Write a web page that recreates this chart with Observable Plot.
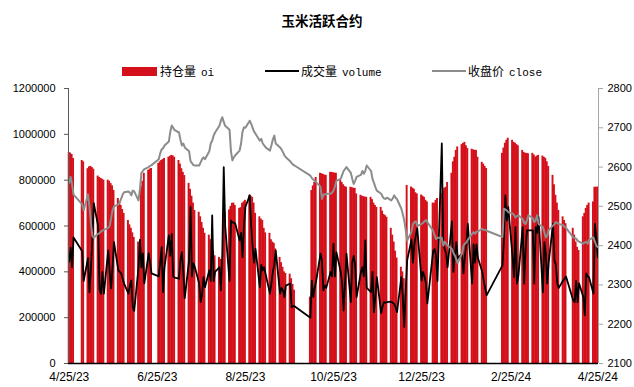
<!DOCTYPE html>
<html><head><meta charset="utf-8">
<script src="https://cdn.jsdelivr.net/npm/d3@7"></script>
<script src="https://cdn.jsdelivr.net/npm/@observablehq/plot@0.6"></script>
<style>
body{margin:0;background:#fff;}
#wrap{position:relative;width:634px;height:387px;overflow:hidden;}
#chart{position:absolute;left:0;top:0;}
.title{position:absolute;left:0;top:11px;width:644px;text-align:center;font-weight:bold;font-size:13.5px;line-height:18px;font-family:"Noto Sans CJK SC",sans-serif;color:#000;}
.lg{position:absolute;top:63px;font-size:12px;line-height:16px;font-family:"Noto Sans CJK SC",sans-serif;color:#000;white-space:nowrap;}
.lg span{font-family:"Liberation Mono",monospace;font-size:11px;margin-left:5px;}
.sw{position:absolute;}
</style></head>
<body>
<div id="wrap">
  <div id="chart"></div>
  <div class="title">玉米活跃合约</div>
  <div class="sw" style="left:122px;top:67px;width:35px;height:9px;background:#d4101a;"></div>
  <div class="lg" style="left:160px;">持仓量<span>oi</span></div>
  <div class="sw" style="left:265px;top:70px;width:34px;height:2px;background:#000;"></div>
  <div class="lg" style="left:301px;">成交量<span>volume</span></div>
  <div class="sw" style="left:432px;top:70px;width:34px;height:2px;background:#8c8c8c;"></div>
  <div class="lg" style="left:468px;">收盘价<span>close</span></div>
</div>
<script>
const dates = [
"2023-04-25","2023-04-26","2023-04-27","2023-04-28",
"2023-05-04","2023-05-05",
"2023-05-08","2023-05-09","2023-05-10","2023-05-11","2023-05-12",
"2023-05-15","2023-05-16","2023-05-17","2023-05-18","2023-05-19",
"2023-05-22","2023-05-23","2023-05-24","2023-05-25","2023-05-26",
"2023-05-29","2023-05-30","2023-05-31","2023-06-01","2023-06-02",
"2023-06-05","2023-06-06","2023-06-07","2023-06-08","2023-06-09",
"2023-06-12","2023-06-13","2023-06-14","2023-06-15","2023-06-16",
"2023-06-19","2023-06-20","2023-06-21",
"2023-06-26","2023-06-27","2023-06-28","2023-06-29","2023-06-30",
"2023-07-03","2023-07-04","2023-07-05","2023-07-06","2023-07-07",
"2023-07-10","2023-07-11","2023-07-12","2023-07-13","2023-07-14",
"2023-07-17","2023-07-18","2023-07-19","2023-07-20","2023-07-21",
"2023-07-24","2023-07-25","2023-07-26","2023-07-27","2023-07-28",
"2023-07-31","2023-08-01","2023-08-02","2023-08-03","2023-08-04",
"2023-08-07","2023-08-08","2023-08-09","2023-08-10","2023-08-11",
"2023-08-14","2023-08-15","2023-08-16","2023-08-17","2023-08-18",
"2023-08-21","2023-08-22","2023-08-23","2023-08-24","2023-08-25",
"2023-08-28","2023-08-29","2023-08-30","2023-08-31","2023-09-01",
"2023-09-04","2023-09-05","2023-09-06","2023-09-07","2023-09-08",
"2023-09-11","2023-09-12","2023-09-13","2023-09-14","2023-09-15",
"2023-09-18","2023-09-19","2023-09-20","2023-09-21","2023-09-22",
"2023-09-25","2023-09-26","2023-09-27","2023-09-28",
"2023-10-09","2023-10-10","2023-10-11","2023-10-12","2023-10-13",
"2023-10-16","2023-10-17","2023-10-18","2023-10-19","2023-10-20",
"2023-10-23","2023-10-24","2023-10-25","2023-10-26","2023-10-27",
"2023-10-30","2023-10-31","2023-11-01","2023-11-02","2023-11-03",
"2023-11-06","2023-11-07","2023-11-08","2023-11-09","2023-11-10",
"2023-11-13","2023-11-14","2023-11-15","2023-11-16","2023-11-17",
"2023-11-20","2023-11-21","2023-11-22","2023-11-23","2023-11-24",
"2023-11-27","2023-11-28","2023-11-29","2023-11-30","2023-12-01",
"2023-12-04","2023-12-05","2023-12-06","2023-12-07","2023-12-08",
"2023-12-11","2023-12-12","2023-12-13","2023-12-14","2023-12-15",
"2023-12-18","2023-12-19","2023-12-20","2023-12-21","2023-12-22",
"2023-12-25","2023-12-26","2023-12-27","2023-12-28","2023-12-29",
"2024-01-02","2024-01-03","2024-01-04","2024-01-05",
"2024-01-08","2024-01-09","2024-01-10","2024-01-11","2024-01-12",
"2024-01-15","2024-01-16","2024-01-17","2024-01-18","2024-01-19",
"2024-01-22","2024-01-23","2024-01-24","2024-01-25","2024-01-26",
"2024-01-29","2024-01-30","2024-01-31","2024-02-01","2024-02-02",
"2024-02-05","2024-02-06","2024-02-07","2024-02-08",
"2024-02-19","2024-02-20","2024-02-21","2024-02-22","2024-02-23",
"2024-02-26","2024-02-27","2024-02-28","2024-02-29","2024-03-01",
"2024-03-04","2024-03-05","2024-03-06","2024-03-07","2024-03-08",
"2024-03-11","2024-03-12","2024-03-13","2024-03-14","2024-03-15",
"2024-03-18","2024-03-19","2024-03-20","2024-03-21","2024-03-22",
"2024-03-25","2024-03-26","2024-03-27","2024-03-28","2024-03-29",
"2024-04-01","2024-04-02","2024-04-03",
"2024-04-08","2024-04-09","2024-04-10","2024-04-11","2024-04-12",
"2024-04-15","2024-04-16","2024-04-17","2024-04-18","2024-04-19",
"2024-04-22","2024-04-23","2024-04-24","2024-04-25"
];

// 持仓量 oi
const oi = [
920000,918000,912000,895000,
886000,880000,
850000,858000,860000,855000,848000,
818000,812000,808000,804000,800000,
800000,795000,785000,775000,755000,
720000,705000,690000,672000,655000,
624000,605000,590000,570000,550000,
530000,505000,770000,795000,830000,
843000,848000,851000,
873000,880000,886000,890000,895000,
900000,904000,908000,906000,900000,
886000,870000,850000,834000,820000,
786000,760000,730000,700000,668000,
660000,640000,615000,590000,568000,
560000,540000,515000,490000,470000,
463000,455000,450000,655000,660000,
670000,685000,699000,700000,690000,
677000,680000,699000,705000,712000,
734000,730000,725000,700000,655000,
640000,630000,624000,590000,570000,
568000,540000,530000,524000,500000,
463000,440000,420000,400000,393000,
390000,370000,345000,320000,
290000,755000,775000,790000,812000,
830000,828000,825000,822000,821000,
834000,834000,832000,831000,830000,
799000,790000,780000,772000,769000,
769000,767000,765000,764000,740000,
734000,730000,728000,726000,725000,
725000,715000,700000,690000,681000,
681000,665000,650000,645000,638000,
590000,560000,530000,490000,460000,
420000,400000,370000,300000,777000,
770000,765000,760000,745000,740000,
735000,730000,725000,712000,705000,
700000,699000,712000,720000,
740000,750000,765000,769000,790000,
830000,880000,900000,930000,945000,
955000,960000,965000,950000,938000,
935000,932000,930000,930000,900000,
878000,870000,860000,851000,
917000,940000,961000,974000,983000,
974000,965000,961000,955000,950000,
930000,921000,917000,917000,915000,
917000,910000,900000,905000,908000,
905000,900000,895000,880000,860000,
821000,780000,734000,700000,668000,
640000,624000,610000,
590000,560000,530000,507000,493000,
640000,655000,677000,690000,700000,
705000,769000,769000,770000
];

// 成交量 volume
const volume = [
445000,505000,420000,550000,
490000,360000,
460000,310000,410000,540000,700000,
600000,320000,305000,400000,305000,
493000,400000,328000,420000,530000,
406000,400000,393000,370000,349000,
305000,340000,362000,246000,230000,
420000,540000,420000,480000,350000,
480000,440000,393000,
380000,440000,508000,311000,420000,
559000,470000,566000,380000,375000,
370000,450000,486000,400000,285000,
450000,683000,380000,437000,420000,
349000,268000,300000,377000,333000,
406000,360000,646000,360000,400000,
420000,319000,480000,857000,600000,
360000,624000,615000,615000,610000,
537000,570000,464000,600000,683000,
734000,600000,510000,440000,500000,
333000,430000,406000,420000,390000,
305000,350000,400000,430000,493000,
305000,330000,320000,290000,340000,
349000,246000,250000,250000,
200000,362000,290000,330000,360000,
479000,450000,319000,340000,330000,
400000,380000,523000,380000,486000,
400000,350000,231000,350000,479000,
268000,440000,470000,430000,290000,
400000,420000,380000,537000,330000,
311000,400000,224000,290000,377000,
220000,250000,268000,265000,268000,
270000,265000,260000,246000,224000,
377000,290000,160000,320000,450000,
540000,440000,520000,560000,590000,
362000,400000,380000,350000,262000,
490000,500000,470000,360000,
960000,520000,500000,480000,420000,
620000,400000,470000,530000,460000,
480000,393000,470000,520000,610000,
349000,520000,440000,520000,460000,
400000,362000,330000,297000,
428000,537000,734000,624000,683000,
464000,377000,595000,349000,380000,
595000,349000,500000,581000,581000,
581000,349000,595000,570000,639000,
311000,530000,480000,349000,440000,
610000,450000,430000,349000,330000,
362000,370000,380000,
275000,268000,360000,268000,350000,
290000,210000,393000,380000,375000,
305000,610000,550000,464000
];

// 收盘价 close
const close = [
2560,2575,2555,2530,
2505,2490,
2530,2500,2460,2425,2420,
2430,2432,2436,2438,2440,
2445,2450,2470,2490,2500,
2505,2510,2520,2530,2536,
2538,2535,2528,2540,2538,
2515,2545,2585,2590,2595,
2600,2603,2605,
2620,2635,2645,2648,2655,
2665,2690,2706,2700,2694,
2688,2670,2655,2660,2650,
2640,2615,2610,2605,2604,
2604,2612,2620,2625,2620,
2640,2660,2667,2680,2688,
2705,2718,2727,2715,2705,
2695,2640,2617,2625,2630,
2642,2660,2690,2701,2700,
2718,2710,2700,2690,2685,
2667,2672,2660,2655,2650,
2642,2655,2670,2680,2660,
2650,2645,2638,2630,2625,
2615,2610,2606,2604,
2578,2572,2568,2565,2561,
2550,2519,2530,2530,2532,
2532,2535,2540,2550,2565,
2570,2580,2590,2595,2600,
2585,2570,2557,2565,2575,
2580,2590,2583,2590,2604,
2590,2570,2560,2549,2540,
2532,2525,2520,2519,2522,
2515,2520,2528,2522,2518,
2494,2480,2464,2440,2413,
2435,2455,2460,2462,2450,
2455,2458,2462,2465,2460,
2438,2426,2417,2420,
2420,2400,2410,2405,2400,
2392,2382,2375,2365,2356,
2380,2400,2405,2408,2415,
2430,2434,2430,2436,2436,
2443,2440,2440,2438,
2422,2494,2492,2490,2485,
2482,2478,2472,2475,2477,
2468,2458,2455,2465,2477,
2470,2460,2465,2477,2455,
2447,2435,2421,2426,2440,
2451,2455,2460,2458,2455,
2452,2448,2445,
2421,2420,2418,2413,2410,
2405,2408,2410,2405,2415,
2421,2410,2400,2396
];

const xTicks = ["2023-04-25","2023-06-25","2023-08-25","2023-10-25","2023-12-25","2024-02-25","2024-04-25"];
const leftTicks = [0,200000,400000,600000,800000,1000000,1200000];
const rightTicks = [2100,2200,2300,2400,2500,2600,2700,2800];

const parse = d3.utcParse("%Y-%m-%d");
const rows = dates.map((d, i) => ({date: parse(d), oi: oi[i], vol: volume[i], close: close[i]}));
const half = 16 * 3600 * 1000;
const x0 = d3.utcHour.offset(rows[0].date, -12);
const x1 = d3.utcHour.offset(rows[rows.length - 1].date, 12);
const y2 = d3.scaleLinear([rightTicks[0], rightTicks[rightTicks.length - 1]], [leftTicks[0], leftTicks[leftTicks.length - 1]]);

const chart = Plot.plot({
  width: 634, height: 387,
  marginLeft: 68, marginRight: 36, marginTop: 88, marginBottom: 24,
  style: {fontFamily: "'Liberation Sans', Arial, sans-serif", fontSize: "11px", color: "#000", background: "transparent", overflow: "visible"},
  x: {type: "utc", domain: [x0, x1]},
  y: {domain: [leftTicks[0], leftTicks[leftTicks.length - 1]]},
  marks: [
    Plot.rectY(rows, {x1: d => new Date(+d.date - half), x2: d => new Date(+d.date + half), y: "oi", fill: "#d4101a"}),
    Plot.lineY(rows, {x: "date", y: "vol", stroke: "#000", strokeWidth: 1.8}),
    Plot.lineY(rows, {x: "date", y: d => y2(d.close), stroke: "#8c8c8c", strokeWidth: 2}),
    Plot.ruleX([x0], {stroke: "#595959", strokeWidth: 1}),
    Plot.ruleX([x1], {stroke: "#a6a6a6", strokeWidth: 1}),
    Plot.ruleY([0], {stroke: "#000", strokeWidth: 1.5}),
    Plot.axisY(leftTicks, {anchor: "left", tickSize: 4, tickPadding: 9, tickFormat: d3.format("d"), label: null, stroke: "#595959"}),
    Plot.axisY(rightTicks, {anchor: "right", y: y2, text: d => String(d), tickSize: 4, tickPadding: 5, label: null, stroke: "#a6a6a6"}),
    Plot.axisX(xTicks.map(parse), {tickSize: 0, tickPadding: 9, tickFormat: d3.utcFormat("%-m/%-d/%y"), label: null, fontSize: 12})
  ]
});
document.getElementById("chart").appendChild(chart);
</script>
</body></html>
